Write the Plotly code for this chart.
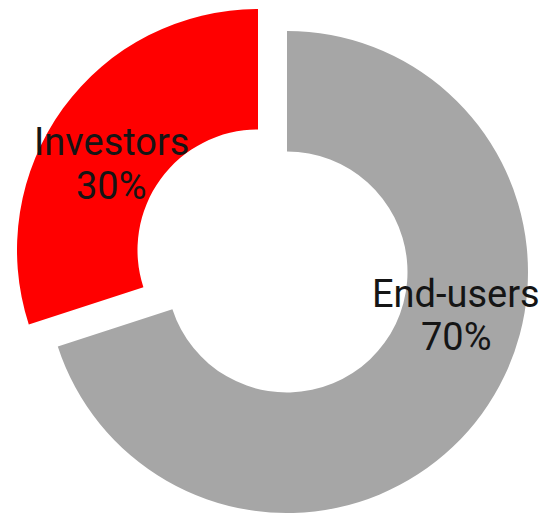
import plotly.graph_objects as go

# Audience split
labels = ["End-users", "Investors"]
values = [70, 30]
colors = ["#A6A6A6", "#FF0000"]

W, H = 551, 513
total = sum(values)

fig = go.Figure()

# Ring geometry in pixels: centre of the main ring and the exploded offset of the small slice
cx, cy, R = 287, 272, 241
explode = (-29, -22)
hole = 0.5


def dom(x0, y0):
    return dict(
        x=[max(0, (x0 - R) / W), min(1, (x0 + R) / W)],
        y=[max(0, (H - (y0 + R)) / H), min(1, (H - (y0 - R)) / H)],
    )


# One trace per slice so the smaller slice can sit off-centre
for i, off in enumerate([(0, 0), explode]):
    slice_colors = [c if j == i else "rgba(0,0,0,0)" for j, c in enumerate(colors)]
    fig.add_trace(go.Pie(
        labels=labels,
        values=values,
        hole=hole,
        sort=False,
        direction="clockwise",
        rotation=0,
        marker=dict(colors=slice_colors, line=dict(width=0)),
        textinfo="none",
        hoverinfo="skip",
        showlegend=False,
        domain=dom(cx + off[0], cy + off[1]),
    ))

# Label name and percentage, each on its own line (x centre, name y, percent y)
label_pos = [(456, 294, 337), (111, 142, 186)]
font = dict(family="Roboto, sans-serif", size=38, color="#151515")
for lab, val, (px, py1, py2) in zip(labels, values, label_pos):
    for txt, py in [(lab, py1), (f"{round(100 * val / total)}%", py2)]:
        fig.add_annotation(
            x=px / W, y=(H - py) / H, xref="paper", yref="paper",
            xanchor="center", yanchor="middle",
            text=txt, showarrow=False, font=font,
        )

fig.update_layout(
    width=W, height=H,
    margin=dict(l=0, r=0, t=0, b=0),
    paper_bgcolor="white",
    plot_bgcolor="white",
)

fig.write_html("out.html")
